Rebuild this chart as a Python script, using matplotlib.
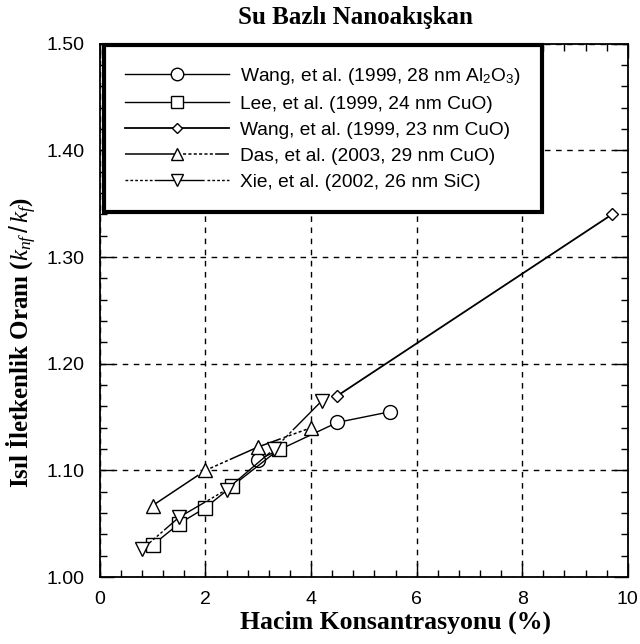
import matplotlib
matplotlib.use('Agg')
import matplotlib.pyplot as plt
from matplotlib.ticker import MultipleLocator, FormatStrFormatter

# volume concentration (%) vs. thermal conductivity ratio k_nf/k_f
wang_al2o3_x = [3.0, 4.5, 5.5]
wang_al2o3_y = [1.11, 1.145, 1.155]

lee_cuo_x = [1.0, 1.5, 2.0, 2.5, 3.4]
lee_cuo_y = [1.03, 1.05, 1.065, 1.085, 1.12]

wang_cuo_x = [4.5, 9.7]
wang_cuo_y = [1.17, 1.34]

das_cuo_x = [1.0, 2.0, 3.0, 4.0]
das_cuo_y = [1.067, 1.10, 1.122, 1.14]

xie_sic_x = [0.8, 1.5, 2.4, 3.3, 4.2]
xie_sic_y = [1.026, 1.056, 1.082, 1.12, 1.165]

labels = ['Wang, et al. (1999, 28 nm Al$_2$O$_3$)',
          'Lee, et al. (1999, 24 nm CuO)',
          'Wang, et al. (1999, 23 nm CuO)',
          'Das, et al. (2003, 29 nm CuO)',
          'Xie, et al. (2002, 26 nm SiC)']

plt.rcParams['font.family'] = ['Liberation Sans', 'DejaVu Sans']
plt.rcParams['mathtext.fontset'] = 'custom'
plt.rcParams['mathtext.rm'] = 'Liberation Sans'
plt.rcParams['mathtext.it'] = 'Liberation Serif:italic'

fig = plt.figure(figsize=(6.4, 6.44), dpi=100)
ax = fig.add_axes([0.156, 0.104, 0.825, 0.828])

# half solid / half dotted dashes, like the old plotting package
das_ls = (0, (36, 2, 2, 1.5, 2, 1.5, 2, 1.5, 2, 1.5, 2, 1.5, 2, 1.5))
xie_ls = (0, (2, 1.5, 2, 1.5, 2, 1.5, 2, 1.5, 2, 1.5, 2, 1.5, 36, 2))

mk = dict(color='black', markerfacecolor='white', markeredgecolor='black',
          markeredgewidth=1.0)
ax.plot(wang_al2o3_x, wang_al2o3_y, '-', marker='o', ms=10, lw=1.0,
        label=labels[0], **mk)
ax.plot(lee_cuo_x, lee_cuo_y, '-', marker='s', ms=10, lw=1.0,
        label=labels[1], **mk)
ax.plot(wang_cuo_x, wang_cuo_y, '-', marker='D', ms=6, lw=1.3,
        label=labels[2], **mk)
ax.plot(das_cuo_x, das_cuo_y, linestyle=das_ls, marker='^',
        ms=10, lw=1.1, label=labels[3], **mk)
ax.plot(xie_sic_x, xie_sic_y, linestyle=xie_ls, marker='v',
        ms=10, lw=1.0, label=labels[4], **mk)

ax.set_xlim(0, 10)
ax.set_ylim(1.0, 1.5)
ax.xaxis.set_major_locator(MultipleLocator(2))
ax.xaxis.set_minor_locator(MultipleLocator(0.4))
ax.yaxis.set_major_locator(MultipleLocator(0.1))
ax.yaxis.set_minor_locator(MultipleLocator(0.02))
ax.yaxis.set_major_formatter(FormatStrFormatter('%.2f'))
ax.tick_params(which='both', direction='in', top=True, right=True,
               labelsize=14, width=1.0)
ax.tick_params(which='major', length=10)
ax.tick_params(which='minor', length=5)
ax.tick_params(axis='x', which='major', pad=10)
ax.tick_params(axis='y', which='major', pad=11)
for s in ax.spines.values():
    s.set_linewidth(1.3)

ax.grid(True, which='major', color='black', linestyle=(0, (4, 4)), lw=1.0)

leg = ax.legend(loc='upper left', bbox_to_anchor=(0.008, 0.998),
                fontsize=13.8, handlelength=5.4, handletextpad=0.6,
                labelspacing=0.45, borderpad=1.1, borderaxespad=0.0,
                fancybox=False, framealpha=1, edgecolor='black',
                markerscale=0.9)
leg.get_frame().set_linewidth(3.0)

ax.set_title('Su Bazlı Nanoakışkan', family='Liberation Serif',
             fontweight='bold', fontsize=18, x=0.485, pad=14)
ax.set_xlabel('Hacim Konsantrasyonu (%)', family='Liberation Serif',
              fontweight='bold', fontsize=18.5)
ax.xaxis.set_label_coords(0.56, -0.062)
ax.set_ylabel('Isıl İletkenlik Oranı ($k_{nf}\\,/\\,k_f$)',
              family='Liberation Serif', fontweight='bold', fontsize=18)
ax.yaxis.set_label_coords(-0.115, 0.44)

fig.savefig('out.png', dpi=100)
